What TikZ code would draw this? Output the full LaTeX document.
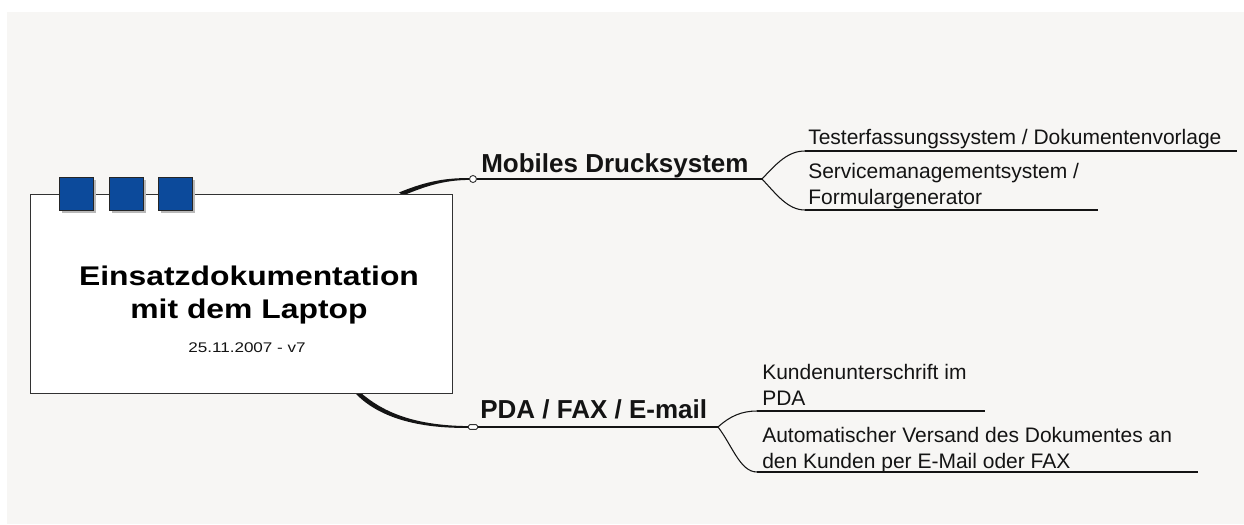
\documentclass[tikz,border=0pt]{standalone}
\usepackage{fontspec}
\setmainfont{Liberation Sans}
\newfontfamily\titlefont[FakeStretch=1.18]{Liberation Sans}
\newfontfamily\datefont[FakeStretch=1.22]{Liberation Sans}
\usetikzlibrary{calc,shadows}
\definecolor{bggray}{RGB}{247,246,244}
\definecolor{boxblue}{RGB}{12,74,155}
\definecolor{ink}{RGB}{20,20,20}
\definecolor{frame}{RGB}{50,50,50}
\definecolor{shade}{RGB}{185,185,185}
\begin{document}
\begin{tikzpicture}[x=0.75pt,y=-0.75pt,
  branchtxt/.style={font=\fontsize{19.5}{24}\selectfont\bfseries, inner sep=0, anchor=base west, text=ink},
  leaftxt/.style={font=\fontsize{15.75}{19.5}\selectfont, inner sep=0, anchor=base west, align=left, text=ink},
  uline/.style={draw=ink, line width=1.1pt},
  twig/.style={draw=ink, line width=0.8pt},
  knob/.style={circle, draw=frame, fill=white, line width=0.7pt, minimum size=5.25pt, inner sep=0},
  flatknob/.style={rectangle, rounded corners=1pt, draw=frame, fill=white, line width=0.7pt, minimum width=6.75pt, minimum height=3.5pt, inner sep=0},
  tab/.style={draw=black!85, fill=boxblue, line width=0.75pt, minimum width=25.5pt, minimum height=24.75pt, inner sep=0,
    drop shadow={shadow xshift=2pt, shadow yshift=-2pt, fill=shade, opacity=1}},
  rootbox/.style={draw=frame, fill=white, line width=0.8pt, minimum width=316.5pt, minimum height=149.25pt, inner sep=0, anchor=north west},
]
\useasboundingbox (0,0) rectangle (1244,524);
\fill[white] (0,0) rectangle (1244,524);
\fill[bggray] (7,12) rectangle (1244,524);

% nodes
\node[knob] (m1) at (473,179) {};
\node[flatknob] (m2) at (473,427) {};
\coordinate (r1) at (401,194);
\coordinate (r2) at (357,393);

% trunks (tapered)
\fill[ink] ($(r1)+(-2,-1.5)$) .. controls (422,183) and (442,177.8) .. ($(m1.west)+(0,-0.9)$)
  -- ($(m1.west)+(0,0.9)$) .. controls (442,180.2) and (424,187) .. ($(r1)+(2,1.5)$) -- cycle;
\fill[ink] ($(r2)+(-2,0)$) .. controls (375,414) and (410,428.5) .. ($(m2.west)+(0,0.9)$)
  -- ($(m2.west)+(0,-0.9)$) .. controls (410,425.5) and (381,410) .. ($(r2)+(4,0)$) -- cycle;

% root box
\node[rootbox] (root) at (30,194) {};
\node[tab] (t1) at (76,193.5) {};
\node[tab] (t2) at (126,193.5) {};
\node[tab] (t3) at (175.5,193.5) {};
\node[font=\titlefont\bfseries\fontsize{20.25}{24.75}\selectfont, align=center, anchor=base, inner sep=0, text=black] (title) at (249,318) {Einsatzdokumentation\\mit dem Laptop};
\node[font=\datefont\fontsize{10.5}{12}\selectfont, anchor=base, inner sep=0, text=ink] (date) at (247,352) {25.11.2007 - v7};

% branch 1
\node[branchtxt] (b1) at (481,172) {Mobiles Drucksystem};
\coordinate (f1) at (762,179);
\draw[uline] (m1.east) -- (f1);
\node[leaftxt] (l1) at (808,145) {Testerfassungssystem / Dokumentenvorlage};
\coordinate (l1a) at (805,151);
\coordinate (l1b) at (1237,151);
\draw[twig] (f1) .. controls (777,163) and (788,151) .. (l1a);
\draw[uline] (l1a) -- (l1b);
\node[leaftxt] (l2) at (808,204) {Servicemanagementsystem /\\Formulargenerator};
\coordinate (l2a) at (805,210);
\coordinate (l2b) at (1098,210);
\draw[twig] (f1) .. controls (777,195) and (788,210) .. (l2a);
\draw[uline] (l2a) -- (l2b);

% branch 2
\node[branchtxt] (b2) at (480,418) {PDA / FAX / E-mail};
\coordinate (f2) at (718,427);
\draw[uline] (m2.east) -- (f2);
\node[leaftxt] (l3) at (762,405) {Kundenunterschrift im\\PDA};
\coordinate (l3a) at (757,411);
\coordinate (l3b) at (985,411);
\draw[twig] (f2) .. controls (730,416) and (742,411) .. (l3a);
\draw[uline] (l3a) -- (l3b);
\node[leaftxt] (l4) at (762,468) {Automatischer Versand des Dokumentes an\\den Kunden per E-Mail oder FAX};
\coordinate (l4a) at (757,472);
\coordinate (l4b) at (1198,472);
\draw[twig] (f2) .. controls (732,445) and (740,472) .. (l4a);
\draw[uline] (l4a) -- (l4b);
\end{tikzpicture}
\end{document}
